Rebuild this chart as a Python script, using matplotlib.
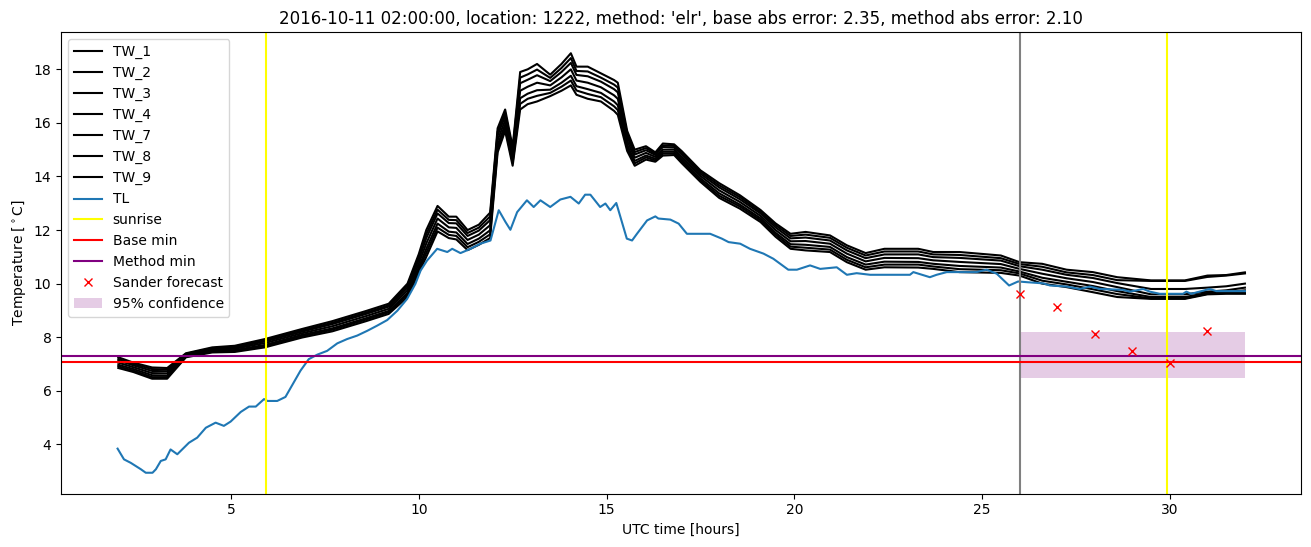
import matplotlib
matplotlib.use("Agg")
import matplotlib.pyplot as plt
import numpy as np

title = ("2016-10-11 02:00:00, location: 1222, method: 'elr', "
         "base abs error: 2.35, method abs error: 2.10")

# TL (blue) readings
tl_hours = [1.98, 2.15, 2.33, 2.6, 2.73, 2.91, 3.0, 3.13, 3.26, 3.39, 3.57, 3.88,
            4.1, 4.33, 4.59, 4.81, 4.99, 5.26, 5.48, 5.66, 5.88, 5.97, 6.23, 6.45,
            6.85, 7.07, 7.3, 7.56, 7.83, 8.09, 8.36, 8.63, 8.89, 9.16, 9.43, 9.69,
            9.91, 10.05, 10.22, 10.49, 10.76, 10.89, 11.11, 11.38, 11.64, 11.91,
            12.13, 12.31, 12.44, 12.62, 12.88, 13.06, 13.24, 13.5, 13.77, 14.04,
            14.26, 14.43, 14.57, 14.83, 14.97, 15.1, 15.26, 15.54, 15.68, 15.81,
            16.08, 16.3, 16.38, 16.7, 16.92, 17.14, 17.76, 18.07, 18.25, 18.56,
            18.82, 19.18, 19.44, 19.84, 20.07, 20.42, 20.69, 21.13, 21.4, 21.66,
            22.02, 23.08, 23.17, 23.61, 23.79, 24.06, 24.85, 25.12, 25.39, 25.72,
            25.96, 26.23, 26.63, 26.81, 27.25, 27.6, 27.87, 28.14, 28.75, 28.93,
            29.29, 29.47, 29.73, 30.35, 30.44, 30.57, 31.06, 31.24, 32.0]
tl_temp = [3.84, 3.44, 3.31, 3.07, 2.94, 2.94, 3.07, 3.38, 3.44, 3.81, 3.63, 4.06,
           4.25, 4.62, 4.81, 4.69, 4.85, 5.21, 5.41, 5.41, 5.69, 5.62, 5.62, 5.77,
           6.75, 7.18, 7.35, 7.49, 7.77, 7.93, 8.06, 8.24, 8.43, 8.64, 8.99, 9.43,
           9.99, 10.49, 10.86, 11.3, 11.18, 11.3, 11.14, 11.3, 11.49, 11.61,
           12.74, 12.3, 12.01, 12.67, 13.11, 12.86, 13.11, 12.86, 13.14, 13.24,
           12.99, 13.32, 13.32, 12.86, 12.99, 12.74, 13.01, 11.68, 11.61, 11.86,
           12.36, 12.51, 12.43, 12.39, 12.24, 11.86, 11.86, 11.68, 11.55, 11.49,
           11.3, 11.12, 10.93, 10.52, 10.52, 10.68, 10.55, 10.61, 10.33, 10.39,
           10.33, 10.33, 10.43, 10.24, 10.33, 10.43, 10.43, 10.52, 10.37, 9.93,
           10.08, 10.05, 10.01, 9.93, 9.89, 9.8, 9.89, 9.8, 9.77, 9.7,
           9.8, 9.7, 9.62, 9.62, 9.7, 9.62, 9.8, 9.72, 9.72]

# TW (black) readings
tw_hours = [2.0, 2.4, 2.9, 3.3, 3.8, 4.5, 5.1, 5.9, 6.9, 7.7, 8.6, 9.2, 9.7, 10.0,
            10.2, 10.5, 10.8, 11.0, 11.3, 11.6, 11.9, 12.1, 12.3, 12.5, 12.7, 12.9,
            13.15, 13.5, 13.8, 14.05, 14.2, 14.5, 14.85, 15.2, 15.3, 15.55, 15.75,
            16.05, 16.3, 16.5, 16.8, 17.0, 17.5, 18.0, 18.55, 19.1, 19.5, 19.9,
            20.3, 20.95, 21.4, 21.9, 22.4, 23.3, 23.7, 24.4, 25.5, 26.0, 26.6,
            27.25, 27.95, 28.6, 29.5, 30.4, 31.0, 31.5, 32.0]
tw_1 = [7.25, 7.05, 6.87, 6.85, 7.4, 7.62, 7.68, 7.93, 8.31, 8.6, 8.98, 9.25, 10.0, 11.1,
        12.0, 12.9, 12.5, 12.5, 12.0, 12.2, 12.65, 15.8, 16.5, 15.1, 17.9, 18.0,
        18.2, 17.8, 18.2, 18.6, 18.1, 18.1, 17.85, 17.6, 17.5, 15.7, 15.0,
        15.13, 14.9, 15.23, 15.2, 14.95, 14.23, 13.75, 13.3, 12.75, 12.25, 11.86,
        11.93, 11.8, 11.43, 11.14, 11.3, 11.3, 11.18, 11.18, 11.05, 10.8, 10.74,
        10.52, 10.43, 10.24, 10.12, 10.12, 10.3, 10.32, 10.42]
tw_2 = [7.19, 7.0, 6.81, 6.79, 7.38, 7.59, 7.65, 7.88, 8.26, 8.54, 8.92, 9.19, 9.93, 11.0,
        11.85, 12.76, 12.38, 12.37, 11.89, 12.09, 12.51, 15.67, 16.38, 15.0, 17.69, 17.81,
        17.99, 17.68, 18.05, 18.42, 17.94, 17.92, 17.69, 17.43, 17.32, 15.59, 14.91,
        15.06, 14.85, 15.16, 15.14, 14.88, 14.17, 13.67, 13.23, 12.68, 12.18, 11.78,
        11.83, 11.71, 11.34, 11.05, 11.2, 11.2, 11.09, 11.07, 10.95, 10.73, 10.63,
        10.42, 10.32, 10.13, 10.1, 10.1, 10.25, 10.3, 10.38]
tw_3 = [7.13, 6.95, 6.74, 6.73, 7.36, 7.56, 7.61, 7.84, 8.21, 8.49, 8.87, 9.14, 9.85, 10.89,
        11.7, 12.62, 12.26, 12.25, 11.78, 11.98, 12.37, 15.53, 16.26, 14.89, 17.48, 17.61,
        17.78, 17.56, 17.9, 18.24, 17.79, 17.74, 17.54, 17.26, 17.14, 15.48, 14.82,
        14.98, 14.8, 15.1, 15.08, 14.82, 14.1, 13.59, 13.15, 12.62, 12.1, 11.69,
        11.72, 11.61, 11.24, 10.95, 11.09, 11.09, 10.99, 10.96, 10.86, 10.65, 10.52,
        10.33, 10.21, 10.02, 9.8, 9.8, 9.85, 9.9, 10.0]
tw_4 = [7.05, 6.88, 6.66, 6.65, 7.33, 7.53, 7.57, 7.78, 8.15, 8.41, 8.79, 9.06, 9.75, 10.75,
        11.5, 12.43, 12.1, 12.08, 11.63, 11.83, 12.18, 15.35, 16.1, 14.75, 17.2, 17.35,
        17.5, 17.4, 17.7, 18.0, 17.58, 17.5, 17.33, 17.03, 16.9, 15.33, 14.7,
        14.88, 14.73, 15.0, 15.0, 14.73, 14.02, 13.48, 13.05, 12.53, 12.0, 11.58,
        11.59, 11.49, 11.12, 10.83, 10.96, 10.95, 10.87, 10.81, 10.73, 10.55, 10.37,
        10.2, 10.06, 9.87, 9.6, 9.6, 9.7, 9.75, 9.85]
tw_7 = [6.97, 6.81, 6.58, 6.57, 7.3, 7.49, 7.52, 7.71, 8.09, 8.33, 8.71, 8.98, 9.65, 10.61,
        11.3, 12.24, 11.94, 11.91, 11.48, 11.68, 11.99, 15.17, 15.94, 14.61, 16.92, 17.09,
        17.22, 17.24, 17.5, 17.76, 17.37, 17.26, 17.12, 16.8, 16.66, 15.18, 14.58,
        14.78, 14.66, 14.92, 14.92, 14.64, 13.93, 13.37, 12.95, 12.44, 11.9, 11.47,
        11.45, 11.37, 10.99, 10.71, 10.82, 10.81, 10.74, 10.66, 10.6, 10.45, 10.22,
        10.07, 9.91, 9.72, 9.5, 9.5, 9.65, 9.68, 9.75]
tw_8 = [6.91, 6.75, 6.51, 6.51, 7.27, 7.46, 7.48, 7.67, 8.04, 8.28, 8.66, 8.93, 9.58, 10.51,
        11.15, 12.09, 11.82, 11.78, 11.36, 11.56, 11.84, 15.04, 15.82, 14.51, 16.71, 16.9,
        17.01, 17.12, 17.35, 17.58, 17.21, 17.08, 16.96, 16.62, 16.48, 15.06, 14.49,
        14.71, 14.6, 14.85, 14.86, 14.57, 13.86, 13.28, 12.88, 12.37, 11.83, 11.38,
        11.34, 11.27, 10.89, 10.61, 10.71, 10.71, 10.64, 10.54, 10.5, 10.38, 10.11,
        9.97, 9.79, 9.61, 9.45, 9.45, 9.62, 9.65, 9.65]
tw_9 = [6.85, 6.7, 6.45, 6.45, 7.25, 7.43, 7.45, 7.62, 7.99, 8.22, 8.6, 8.87, 9.5, 10.4,
        11.0, 11.95, 11.7, 11.65, 11.25, 11.45, 11.7, 14.9, 15.7, 14.4, 16.5, 16.7,
        16.8, 17.0, 17.2, 17.4, 17.05, 16.9, 16.8, 16.45, 16.3, 14.95, 14.4,
        14.63, 14.55, 14.78, 14.8, 14.5, 13.8, 13.2, 12.8, 12.3, 11.75, 11.3,
        11.24, 11.18, 10.8, 10.52, 10.61, 10.6, 10.55, 10.43, 10.4, 10.3, 10.0,
        9.87, 9.68, 9.5, 9.43, 9.43, 9.6, 9.62, 9.62]
tw_names = ["TW_1", "TW_2", "TW_3", "TW_4", "TW_7", "TW_8", "TW_9"]
tw_all = [tw_1, tw_2, tw_3, tw_4, tw_7, tw_8, tw_9]

sunrise_hours = [5.92, 29.93]
base_min = 7.06
method_min = 7.31
now_hour = 26.0

forecast_hours = [26, 27, 28, 29, 30, 31]
forecast_temp = [9.62, 9.14, 8.12, 7.47, 7.03, 8.24]
conf_hours = [26, 32]
conf_low = 6.46
conf_high = 8.21

fig = plt.figure(figsize=(13.11, 5.47), dpi=100)
ax = fig.add_subplot(111)
fig.subplots_adjust(left=0.0467, right=0.9926, top=0.941, bottom=0.0974)

for name, vals in zip(tw_names, tw_all):
    ax.plot(tw_hours, vals, c="black", label=name)
ax.plot(tl_hours, tl_temp, label="TL")

for i, s in enumerate(sunrise_hours):
    ax.axvline(s, c="yellow", label="sunrise" if i == 0 else None)
ax.axvline(now_hour, c="grey")
ax.axhline(base_min, c="red", label="Base min")
ax.axhline(method_min, c="purple", label="Method min")
ax.plot(forecast_hours, forecast_temp, "rx", label="Sander forecast")
ax.fill_between(conf_hours, [conf_low] * 2, [conf_high] * 2, color="purple",
                alpha=0.2, lw=0, label="95% confidence")

ax.set_title(title)
ax.set_xlabel("UTC time [hours]")
ax.set_ylabel(r"Temperature [$^\circ$C]")
ax.legend(loc="upper left")

fig.savefig("out.png")
